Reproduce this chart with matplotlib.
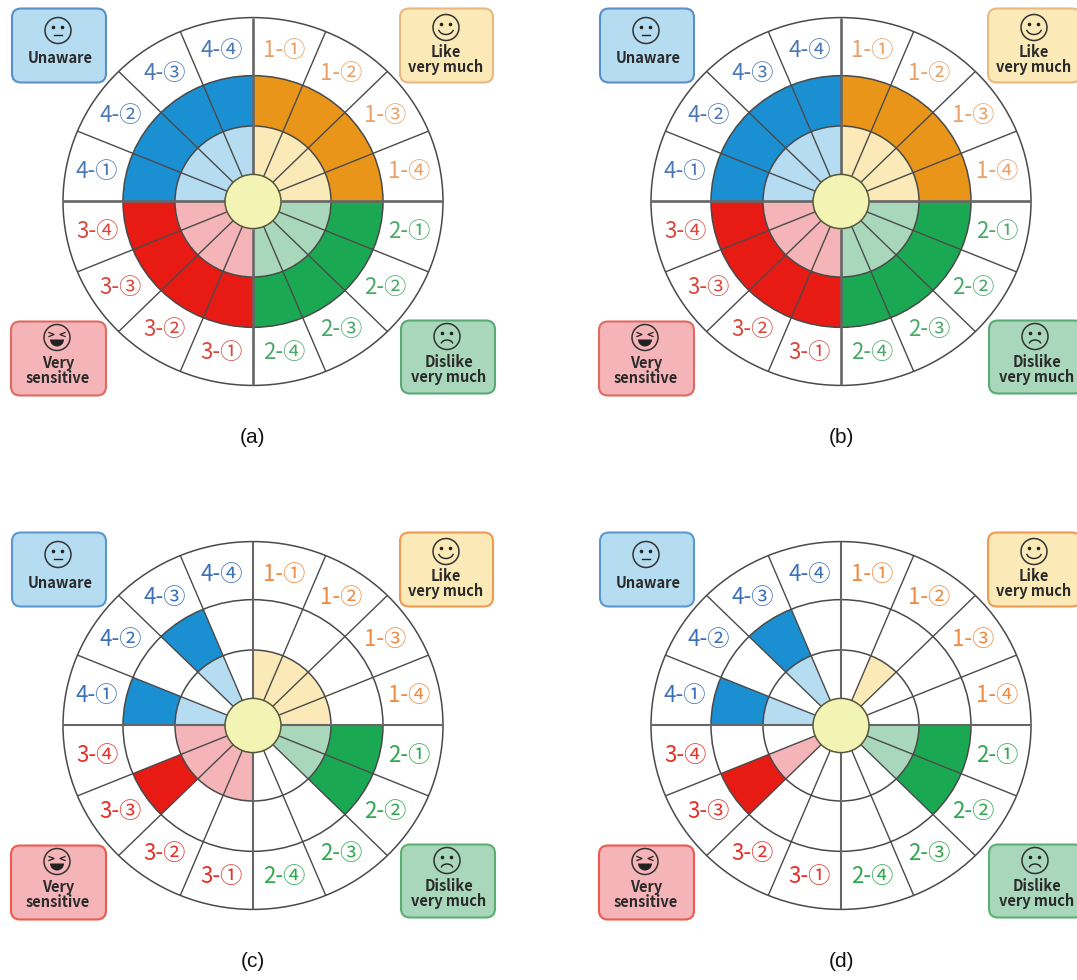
"""Four radial charts (a)-(d): 16 sectors, fill depth per sector."""
import matplotlib
matplotlib.use("Agg")
import matplotlib.pyplot as plt
import numpy as np
from matplotlib.patches import Circle, FancyBboxPatch, Wedge, Arc
from matplotlib.transforms import Affine2D

W, H = 1077, 980

# sectors clockwise from the top
sector_labels = ["1-①", "1-②", "1-③", "1-④",
                 "2-①", "2-②", "2-③", "2-④",
                 "3-①", "3-②", "3-③", "3-④",
                 "4-①", "4-②", "4-③", "4-④"]
# 0 = empty, 1 = inner ring only, 2 = inner + middle ring
levels_a = [2, 2, 2, 2, 2, 2, 2, 2, 2, 2, 2, 2, 2, 2, 2, 2]
levels_b = [2, 2, 2, 2, 2, 2, 2, 2, 2, 2, 2, 2, 2, 2, 2, 2]
levels_c = [1, 1, 1, 1, 2, 2, 0, 0, 1, 1, 2, 1, 2, 0, 2, 0]
levels_d = [0, 1, 0, 0, 2, 2, 0, 0, 0, 0, 2, 0, 2, 0, 2, 0]
captions = ["(a)", "(b)", "(c)", "(d)"]

dark = ["#e8951a", "#1aa852", "#e81a14", "#1a8fd1"]
light = ["#fbeab8", "#a9d7bb", "#f4b4b8", "#b5dcf0"]
text_soft = ["#e8a066", "#4aa868", "#d8483c", "#4a78b4"]
text_strong = ["#ee8a40", "#2fa84f", "#e8302a", "#3a70b8"]
edge_soft = ["#e8b880", "#5aaa78", "#e06a60", "#5a8fc8"]
edge_strong = ["#ef9a50", "#5ab070", "#ef5a50", "#5a98d0"]

# rings in px, the wheel is a little squashed vertically in the original
R_OUT, R_MID, R_IN, R_HUB = 190, 130, 78, 28
Y_SCALE = 0.968
LINE = "#4a4a4a"
MONO = ["Noto Sans CJK JP", "DejaVu Sans"]


def draw_face(ax, x, y, kind):
    r = 13
    ax.add_patch(Circle((x, y), r, fc="none", ec="#333333", lw=1.1, zorder=6))
    if kind == "squint":
        for s in (-1, 1):
            ax.plot([x + s * 8, x + s * 3, x + s * 8], [y + 5, y + 3, y + 1],
                    color="#222222", lw=0.9, zorder=6)
        ax.add_patch(Wedge((x, y - 2), 7, 180, 360, fc="#222222", ec="none", zorder=6))
        return
    for s in (-1, 1):
        ax.add_patch(Circle((x + s * 4.5, y + 3), 1.8, fc="#222222", ec="none", zorder=6))
    if kind == "smile":
        ax.add_patch(Arc((x, y - 1), 15, 12, theta1=190, theta2=350,
                         ec="#222222", lw=1.0, zorder=6))
    elif kind == "frown":
        ax.add_patch(Arc((x, y - 8), 12, 9, theta1=10, theta2=170,
                         ec="#222222", lw=1.0, zorder=6))
    else:
        ax.plot([x - 4, x + 4], [y - 5, y - 5], color="#222222", lw=1.0, zorder=6)


def draw_box(ax, x0, x1, y0, y1, fc, ec):
    ax.add_patch(FancyBboxPatch((x0 + 8, y0 + 8), x1 - x0 - 16, y1 - y0 - 16,
                                boxstyle="round,pad=8,rounding_size=9",
                                fc=fc, ec=ec, lw=1.5, zorder=5))


def draw_panel(ax, levels, caption, strong):
    ax.set_xlim(-253, 253)
    ax.set_ylim(-240, 205)
    ax.set_aspect("equal")
    ax.axis("off")

    text_col = text_strong if strong else text_soft
    edge_col = edge_strong if strong else edge_soft
    squash = Affine2D().scale(1, Y_SCALE) + ax.transData

    # sector fills
    for i, lev in enumerate(levels):
        q = i // 4
        t2 = 90 - i * 22.5
        t1 = t2 - 22.5
        if lev >= 1:
            ax.add_patch(Wedge((0, 0), R_IN, t1, t2, width=R_IN - R_HUB,
                               fc=light[q], ec="none", zorder=1, transform=squash))
        if lev >= 2:
            ax.add_patch(Wedge((0, 0), R_MID, t1, t2, width=R_MID - R_IN,
                               fc=dark[q], ec="none", zorder=1, transform=squash))

    # rings and spokes
    for r in (R_OUT, R_MID, R_IN):
        ax.add_patch(Circle((0, 0), r, fc="none", ec=LINE, lw=1.1, zorder=2,
                            transform=squash))
    for i in range(16):
        a = np.deg2rad(90 - i * 22.5)
        main = i % 4 == 0
        ax.plot([R_HUB * np.cos(a), R_OUT * np.cos(a)],
                [R_HUB * np.sin(a), R_OUT * np.sin(a)],
                color="#666666" if main else LINE,
                lw=(1.5 if strong else 1.9) if main else 1.0,
                solid_capstyle="butt", zorder=3, transform=squash)
    ax.add_patch(Circle((0, 0), R_HUB, fc="#f3f3b4", ec="#55583a", lw=1.1, zorder=4,
                        transform=squash))

    # sector labels
    for i, lab in enumerate(sector_labels):
        a = np.deg2rad(90 - (i + 0.5) * 22.5)
        ax.text(159 * np.cos(a), 159 * Y_SCALE * np.sin(a), lab, color=text_col[i // 4],
                ha="center", va="center", fontsize=16, family=MONO, zorder=6)

    # corner keys
    draw_box(ax, -241, -147, 119, 193, light[3], edge_col[3])
    draw_box(ax, 147, 240, 119, 193, light[0], edge_col[0])
    draw_box(ax, -242, -147, -194, -120, light[2], edge_col[2])
    draw_box(ax, 148, 242, -192, -119, light[1], edge_col[1])

    draw_face(ax, -195, 171, "neutral")
    draw_face(ax, 193, 174, "smile")
    draw_face(ax, -196, -136, "squint")
    draw_face(ax, 194, -135, "frown")

    key = dict(ha="center", va="center", fontsize=10.5, fontweight="bold",
               family=MONO, color="#2a2a2a", linespacing=0.92, zorder=6)
    ax.text(-193, 143, "Unaware", **key)
    ax.text(193, 142, "Like\nvery much", **key)
    ax.text(-195, -169, "Very\nsensitive", **key)
    ax.text(196, -168, "Dislike\nvery much", **key)

    ax.text(0, -236, caption, ha="center", va="center", fontsize=15,
            family="Liberation Sans", color="#111111")


fig = plt.figure(figsize=(W / 100, H / 100), dpi=100)
panels = [(levels_a, 253, 201.5, False), (levels_b, 841, 201.5, False),
          (levels_c, 253, 725.5, True), (levels_d, 841, 725.5, True)]
for (levels, cx, cy, strong), cap in zip(panels, captions):
    left = (cx - 253) / W
    bottom = 1 - (cy + 240) / H
    ax = fig.add_axes([left, bottom, 506 / W, 445 / H])
    draw_panel(ax, levels, cap, strong)
    for p in ax.patches:
        p.set_clip_on(False)

fig.savefig("out.png", dpi=100)
